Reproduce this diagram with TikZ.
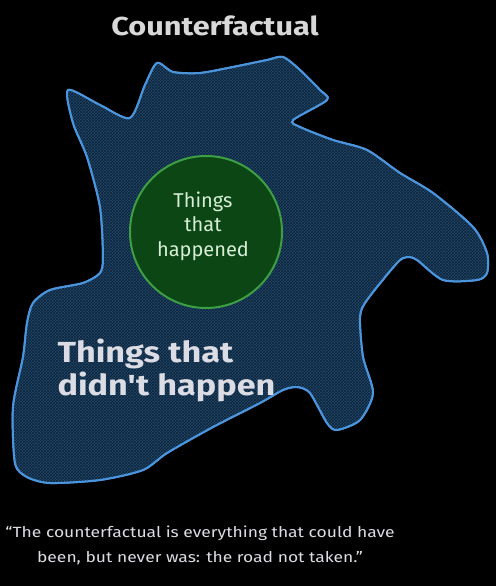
\documentclass[tikz,border=0pt]{standalone}
\usepackage{fontspec}
\setmainfont{Fira Sans}
\newfontfamily\handfont{Fira Sans}
\newfontfamily\widefont[FakeStretch=1.18]{Fira Sans}
\usetikzlibrary{patterns}
\definecolor{bgblack}{HTML}{000000}
\definecolor{blobfill}{HTML}{1F4A70}
\definecolor{blobline}{HTML}{4A95DE}
\definecolor{circfill}{HTML}{0B4614}
\definecolor{circline}{HTML}{3E9E44}
\definecolor{circtext}{HTML}{D6EDD6}
\definecolor{lighttext}{HTML}{DCDCE4}
\definecolor{titletext}{HTML}{D8D8D8}
\tikzset{
  blobstyle/.style={draw=blobline, line width=2pt, fill=blobfill},
  hatchstyle/.style={pattern=crosshatch, pattern color=black!55!blobfill},
  circstyle/.style={circle, draw=circline, line width=2pt, fill=circfill, minimum size=152pt, inner sep=0pt},
  circlabel/.style={text=circtext, font=\handfont\fontsize{20}{24.5}\selectfont, align=center},
  biglabel/.style={text=lighttext, font=\widefont\bfseries\fontsize{29}{33}\selectfont, align=left, anchor=west},
  titlestyle/.style={text=titletext, font=\widefont\bfseries\fontsize{26}{26}\selectfont},
  quotestyle/.style={text=lighttext, font=\widefont\fontsize{14.8}{25}\selectfont, align=center}
}
\begin{document}
\begin{tikzpicture}[x=1pt,y=-1pt]
\fill[bgblack] (0,0) rectangle (496,586);
\useasboundingbox (0,0) rectangle (496,586);
\def\blobpath{plot[smooth cycle, tension=0.45] coordinates {
 (68,90) (100,105) (130,118) (145,85) (157,63) (173,72) (200,73) (233,67)
 (267,60) (283,57) (300,70) (320,90) (327,100) (293,120) (300,127) (333,140)
 (367,150) (400,173) (433,193) (473,227) (487,253) (487,273) (477,280)
 (443,280) (417,260) (407,257) (397,263) (367,300) (360,317) (363,357)
 (373,393) (360,420) (337,430) (327,423) (310,393) (297,387) (283,390)
 (260,403) (213,427) (167,453) (143,470) (100,480) (50,483) (27,477)
 (15,463) (13,407) (23,357) (27,323) (33,303) (50,290) (83,283) (100,273)
 (103,257) (100,207) (87,157) (73,123)}}
\path[blobstyle] \blobpath;
\path[hatchstyle] \blobpath;
\draw[blobline, line width=2pt] \blobpath;
\node[titlestyle] (title) at (215,26) {Counterfactual};
\node[circstyle] (happened) at (206,232) {};
\node[circlabel] (happenedtext) at (203,226) {Things\\that\\happened};
\node[biglabel] (didnt) at (54,370) {Things that\\didn't happen};
\node[quotestyle] (quote) at (200,545) {“The counterfactual is everything that could have\\been, but never was: the road not taken.”};
\end{tikzpicture}
\end{document}
